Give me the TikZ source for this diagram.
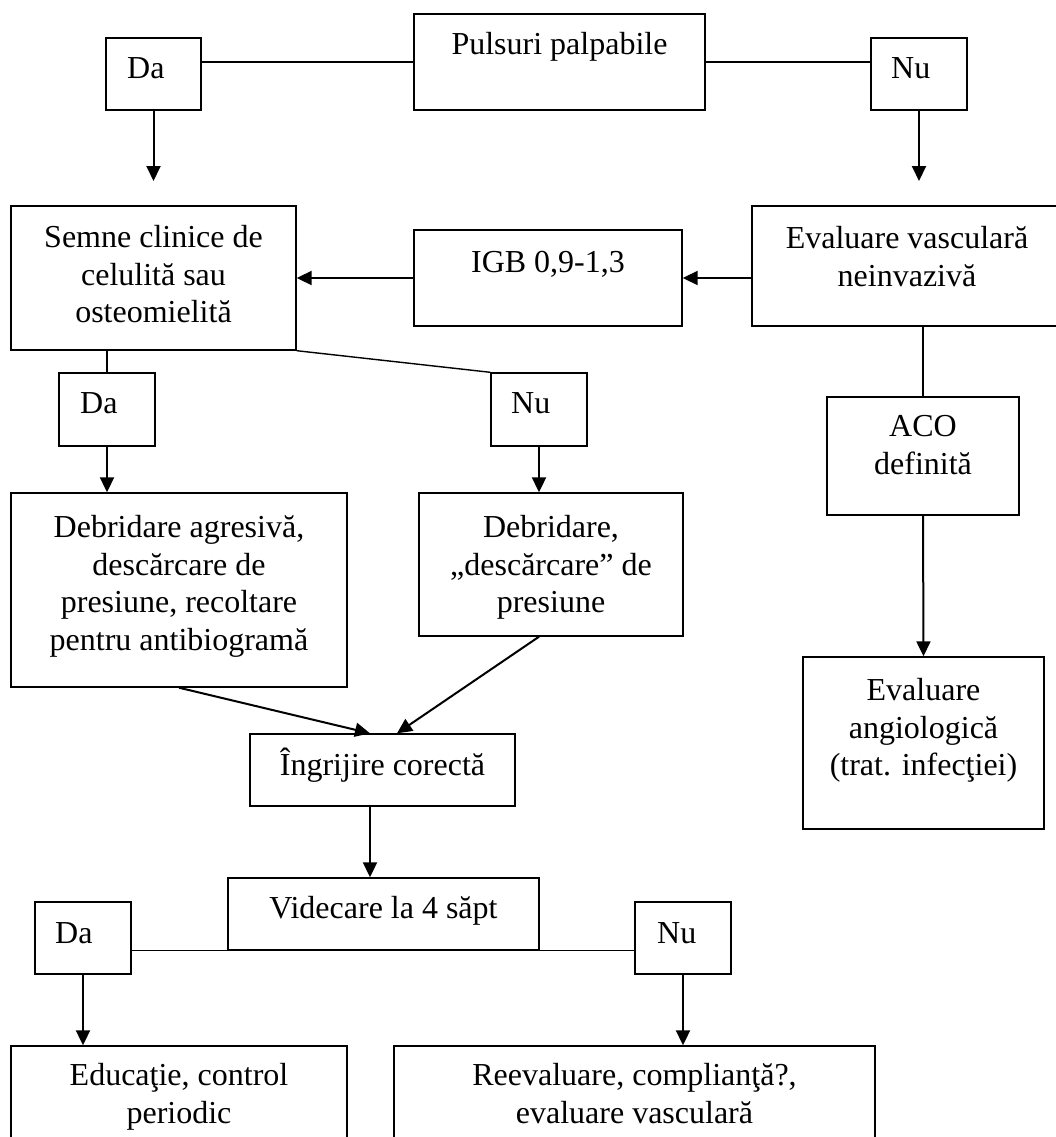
\documentclass[tikz,border=0pt]{standalone}
\usepackage{fontspec}
\setmainfont{Liberation Serif}
\usetikzlibrary{arrows.meta}
\tikzset{
  box/.style={draw, line width=1.4pt, rectangle, inner sep=0pt},
  txt/.style={inner sep=0pt, align=center, font=\fontsize{32}{37.7}\selectfont},
  conn/.style={line width=1.4pt},
  arr/.style={line width=2pt, -{Triangle[length=15pt,width=14pt]}}
}
\begin{document}
\begin{tikzpicture}[x=1pt,y=-1pt]
\clip (0,0) rectangle (1056,1137);
\fill[white] (0,0) rectangle (1056,1137);
% boxes
\node[box, minimum width=291pt, minimum height=96pt] (puls) at (559.5,62) {};
\node[box, minimum width=95pt, minimum height=72pt] (da1) at (153.5,74) {};
\node[box, minimum width=96pt, minimum height=72pt] (nu1) at (919,74) {};
\node[box, minimum width=285pt, minimum height=144pt] (semne) at (153.5,278) {};
\node[box, minimum width=268pt, minimum height=96pt] (igb) at (548,278) {};
\node[box, minimum width=310pt, minimum height=120pt] (evv) at (907,266) {};
\node[box, minimum width=192pt, minimum height=118pt] (aco) at (923,456) {};
\node[box, minimum width=241pt, minimum height=172pt] (eva) at (923.5,743) {};
\node[box, minimum width=96pt, minimum height=73pt] (da2) at (107,409.5) {};
\node[box, minimum width=96pt, minimum height=73pt] (nu2) at (539,409.5) {};
\node[box, minimum width=336pt, minimum height=194pt] (dag) at (179,590) {};
\node[box, minimum width=264pt, minimum height=143pt] (dbn) at (551,564.5) {};
\node[box, minimum width=265pt, minimum height=72pt] (ingr) at (382.5,770) {};
\node[box, minimum width=311pt, minimum height=72pt] (vid) at (383.5,914) {};
\node[box, minimum width=96pt, minimum height=72pt] (da3) at (83,938) {};
\node[box, minimum width=96pt, minimum height=72pt] (nu3) at (683,938) {};
\node[box, minimum width=336pt, minimum height=154pt] (edu) at (179,1123) {};
\node[box, minimum width=481pt, minimum height=154pt] (ree) at (634.5,1123) {};
% texts
\node[txt, anchor=base] (pulsT) at (559.5,55) {Pulsuri palpabile};
\node[txt, anchor=base west] (da1T) at (127,79) {Da};
\node[txt, anchor=base west] (nu1T) at (891,79) {Nu};
\node[txt, anchor=north] (semneT) at (153.5,225) {Semne clinice de\\celulită sau\\osteomielită};
\node[txt, anchor=base] (igbT) at (548,272) {IGB 0,9-1,3};
\node[txt, anchor=north] (evvT) at (907,226) {Evaluare vasculară\\neinvazivă};
\node[txt, anchor=north] (acoT) at (923,415) {ACO\\definită};
\node[txt, anchor=north] (evaT) at (923.5,678) {Evaluare\\angiologică\\(trat. infecţiei)};
\node[txt, anchor=base west] (da2T) at (80,413) {Da};
\node[txt, anchor=base west] (nu2T) at (511,413) {Nu};
\node[txt, anchor=north] (dagT) at (179,515) {Debridare agresivă,\\descărcare de\\presiune, recoltare\\pentru antibiogramă};
\node[txt, anchor=north] (dbnT) at (551,515) {Debridare,\\„descărcare” de\\presiune};
\node[txt, anchor=base] (ingrT) at (382.5,775) {Îngrijire corectă};
\node[txt, anchor=base] (vidT) at (383.5,918) {Videcare la 4 săpt};
\node[txt, anchor=base west] (da3T) at (55,943) {Da};
\node[txt, anchor=base west] (nu3T) at (657,943) {Nu};
\node[txt, anchor=north] (eduT) at (179,1063) {Educaţie, control\\periodic};
\node[txt, anchor=north] (reeT) at (634.5,1063) {Reevaluare, complianţă?,\\evaluare vasculară};
% free arrow ends
\coordinate (da1end) at (153.5,181);
\coordinate (nu1end) at (919,181);
% connectors
\draw[conn] (da1.east |- puls.west) -- (puls.west);
\draw[conn] (puls.east) -- (nu1.west |- puls.east);
\draw[arr] (da1.south) -- (da1end);
\draw[arr] (nu1.south) -- (nu1end);
\draw[arr] (evv.west |- igb.east) -- (igb.east);
\draw[arr] (igb.west) -- (semne.east);
\draw[conn] (aco.north |- evv.south) -- (aco.north);
\draw[arr] (aco.south) -- (eva.north);
\draw[conn] (semne.south -| da2.north) -- (da2.north);
\draw[conn] (semne.south east) -- (nu2.north west);
\draw[arr] (da2.south) -- (da2.south |- dag.north);
\draw[arr] (nu2.south) -- (nu2.south |- dbn.north);
\draw[arr] (dag.south) -- ([xshift=-12.5pt]ingr.north);
\draw[arr] (nu2.south |- dbn.south) -- ([xshift=14.5pt]ingr.north);
\draw[arr] ([xshift=-12.5pt]ingr.south) -- ([xshift=-12.5pt]ingr.south |- vid.north);
\draw[conn] (da3.east |- vid.south) -- (nu3.west |- vid.south);
\draw[arr] (da3.south) -- (da3.south |- edu.north);
\draw[arr] (nu3.south) -- (nu3.south |- ree.north);
\end{tikzpicture}
\end{document}
